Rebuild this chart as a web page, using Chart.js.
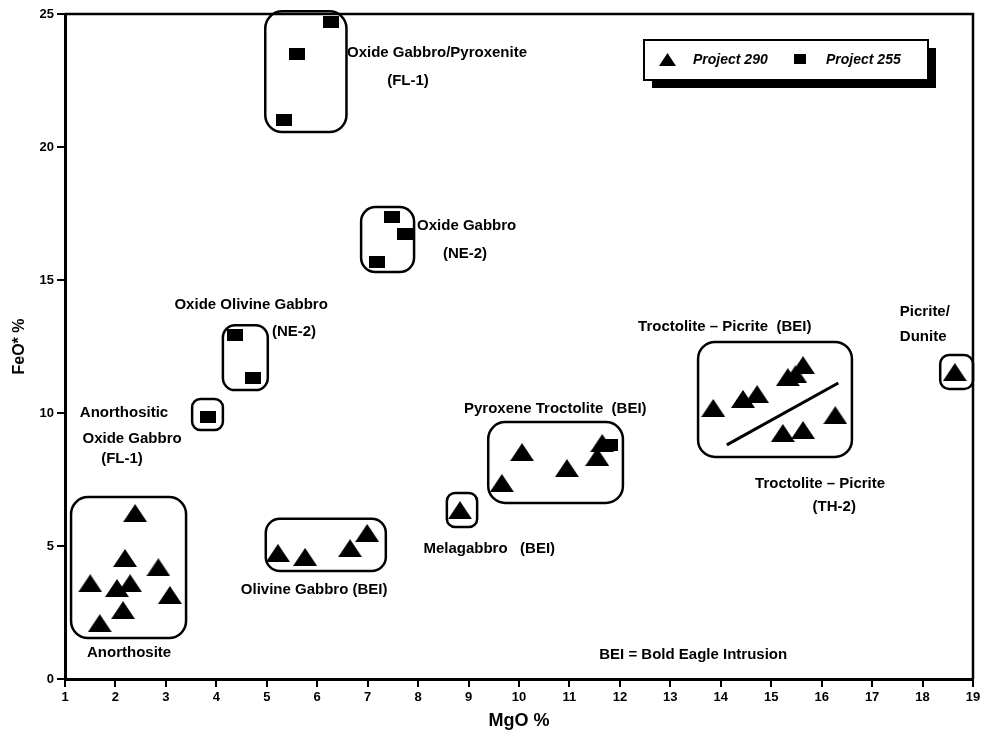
<!DOCTYPE html>
<html>
<head>
<meta charset="utf-8">
<script src="https://cdn.jsdelivr.net/npm/chart.js@4.4.1/dist/chart.umd.min.js"></script>
<style>
  html, body { margin: 0; padding: 0; background: #fff; }
</style>
</head>
<body>
<canvas id="c" width="984" height="736"></canvas>
<script>
// ---- Project 290 samples (triangles) ----
const mgo290 = [2.39, 2.19, 2.85, 1.50, 2.03, 2.29, 3.08, 2.15, 1.69,
                5.22, 5.76, 6.65, 6.99,
                8.83,
                9.66, 10.06, 10.95, 11.55, 11.65,
                13.85, 14.44, 14.72, 15.33, 15.48, 15.63, 16.27, 15.23, 15.63,
                18.64];
const feo290 = [6.24, 4.55, 4.20, 3.60, 3.42, 3.60, 3.16, 2.59, 2.10,
                4.74, 4.59, 4.92, 5.49,
                6.35,
                7.37, 8.53, 7.93, 8.35, 8.87,
                10.19, 10.53, 10.71, 11.35, 11.45, 11.80, 9.92, 9.25, 9.36,
                11.54];

// ---- Project 255 samples (squares) ----
const mgo255 = [5.34, 5.60, 6.27, 7.19, 7.48, 7.74, 4.37, 4.73, 3.83, 11.80];
const feo255 = [21.0, 23.5, 24.7, 15.68, 17.37, 16.73, 12.93, 11.30, 9.85, 8.80];

// Dividing line through the troctolite - picrite field
const divideMgo = [14.12, 16.33];
const divideFeo = [8.80, 11.13];

// Rock-type fields (MgO range, FeO* range)
const fieldNames = ['Oxide Gabbro/Pyroxenite', 'Oxide Gabbro', 'Oxide Olivine Gabbro',
                    'Anorthositic Oxide Gabbro', 'Anorthosite', 'Olivine Gabbro',
                    'Melagabbro', 'Pyroxene Troctolite', 'Troctolite - Picrite', 'Picrite/Dunite'];
const fieldMgo = [[4.97, 6.58], [6.87, 7.92], [4.13, 5.02], [3.52, 4.13], [1.12, 3.40],
                  [4.98, 7.36], [8.57, 9.17], [9.39, 12.06], [13.55, 16.60], [18.35, 19.0]];
const fieldFeo = [[20.56, 25.1], [15.30, 17.74], [10.86, 13.30], [9.36, 10.53], [1.54, 6.84],
                  [4.06, 6.02], [5.71, 6.99], [6.62, 9.66], [8.35, 12.67], [10.90, 12.18]];

// Field annotations: text, MgO, FeO*, alignment
const noteText = ['Oxide Gabbro/Pyroxenite', '(FL-1)', 'Oxide Gabbro', '(NE-2)',
                  'Oxide Olivine Gabbro', '(NE-2)', 'Anorthositic', 'Oxide Gabbro', '(FL-1)',
                  'Anorthosite', 'Olivine Gabbro (BEI)', 'Melagabbro   (BEI)',
                  'Pyroxene Troctolite  (BEI)', 'Troctolite \u2013 Picrite  (BEI)',
                  'Troctolite \u2013 Picrite', '(TH-2)', 'Picrite/', 'Dunite',
                  'BEI = Bold Eagle Intrusion'];
const noteMgo = [6.59, 7.80, 7.98, 8.93, 4.69, 5.54, 2.17, 2.33, 2.13, 2.27, 5.94, 9.41,
                 8.91, 12.36, 14.68, 16.25, 17.55, 17.55, 11.59];
const noteFeo = [23.53, 22.48, 17.03, 15.98, 14.06, 13.05, 10.0, 9.02, 8.27, 0.98, 3.35, 4.89,
                 10.15, 13.23, 7.33, 6.47, 13.80, 12.86, 0.90];
const noteAlign = ['left', 'center', 'left', 'center', 'center', 'center', 'center', 'center',
                   'center', 'center', 'center', 'center', 'left', 'left', 'left', 'center',
                   'left', 'left', 'left'];

const xTicks = [1, 19];
const yTicks = [0, 25];

const FONT = "'Liberation Sans', Arial, sans-serif";

// Marker images
function makeTriangle(w, h) {
  const c = document.createElement('canvas');
  c.width = w; c.height = h;
  const g = c.getContext('2d');
  g.fillStyle = '#000';
  g.beginPath();
  g.moveTo(w / 2, 0); g.lineTo(w, h); g.lineTo(0, h); g.closePath();
  g.fill();
  return c;
}
function makeSquare(w, h) {
  const c = document.createElement('canvas');
  c.width = w; c.height = h;
  const g = c.getContext('2d');
  g.fillStyle = '#000';
  g.fillRect(0, 0, w, h);
  return c;
}
const triMark = makeTriangle(24, 18);
const sqMark = makeSquare(16, 12);
const triLegend = makeTriangle(17, 13);
const sqLegend = makeSquare(12, 10);

function zip(xs, ys) { return xs.map((v, i) => ({ x: v, y: ys[i] })); }

function roundRectPath(ctx, l, t, w, h, r) {
  ctx.beginPath();
  ctx.moveTo(l + r, t);
  ctx.arcTo(l + w, t, l + w, t + h, r);
  ctx.arcTo(l + w, t + h, l, t + h, r);
  ctx.arcTo(l, t + h, l, t, r);
  ctx.arcTo(l, t, l + w, t, r);
  ctx.closePath();
}

const decorations = {
  id: 'decorations',
  beforeDatasetsDraw(chart) {
    const { ctx, scales: { x, y } } = chart;
    ctx.save();
    ctx.strokeStyle = '#000';
    ctx.lineWidth = 2.5;
    fieldNames.forEach((n, i) => {
      const l = x.getPixelForValue(fieldMgo[i][0]);
      const r = x.getPixelForValue(fieldMgo[i][1]);
      const t = y.getPixelForValue(fieldFeo[i][1]);
      const b = y.getPixelForValue(fieldFeo[i][0]);
      const rad = Math.min(17, 0.27 * Math.min(r - l, b - t));
      roundRectPath(ctx, l, t, r - l, b - t, rad);
      ctx.stroke();
    });
    ctx.restore();
  },
  afterDatasetsDraw(chart) {
    const { ctx, chartArea: a, scales: { x, y } } = chart;
    ctx.save();
    // frame: top and right edges
    ctx.strokeStyle = '#000';
    ctx.lineWidth = 2.5;
    ctx.beginPath();
    ctx.moveTo(a.left, a.top); ctx.lineTo(a.right, a.top); ctx.lineTo(a.right, a.bottom);
    ctx.stroke();

    // annotations
    ctx.fillStyle = '#000';
    ctx.font = `bold 15px ${FONT}`;
    ctx.textBaseline = 'middle';
    noteText.forEach((t, i) => {
      ctx.textAlign = noteAlign[i];
      ctx.fillText(t, x.getPixelForValue(noteMgo[i]), y.getPixelForValue(noteFeo[i]));
    });

    // legend box with drop shadow
    const lw = 284, lh = 40;
    const lx = a.right - 45 - lw, ly = a.top + 26;
    ctx.fillStyle = '#000';
    ctx.fillRect(lx + 8, ly + 8, lw, lh);
    ctx.fillStyle = '#fff';
    ctx.fillRect(lx, ly, lw, lh);
    ctx.lineWidth = 2;
    ctx.strokeRect(lx, ly, lw, lh);
    ctx.fillStyle = '#000';
    ctx.font = `italic bold 14px ${FONT}`;
    ctx.textAlign = 'left';
    const ds = chart.data.datasets;
    const cy = ly + lh / 2;
    ctx.drawImage(triLegend, lx + 15, cy - 7);
    ctx.fillText(ds[0].label, lx + 49, cy);
    ctx.drawImage(sqLegend, lx + 150, cy - 6);
    ctx.fillText(ds[1].label, lx + 182, cy);
    ctx.restore();
  }
};

new Chart(document.getElementById('c'), {
  type: 'scatter',
  data: {
    datasets: [
      { label: 'Project 290', data: zip(mgo290, feo290), pointStyle: triMark,
        backgroundColor: '#000', borderColor: '#000' },
      { label: 'Project 255', data: zip(mgo255, feo255), pointStyle: sqMark,
        backgroundColor: '#000', borderColor: '#000' },
      { type: 'line', label: 'divide', data: zip(divideMgo, divideFeo), showLine: true,
        borderColor: '#000', borderWidth: 3, pointRadius: 0, fill: false }
    ]
  },
  options: {
    responsive: false,
    animation: false,
    devicePixelRatio: 1,
    layout: { padding: { top: 14, right: 11, left: 0, bottom: 0 } },
    plugins: { legend: { display: false }, tooltip: { enabled: false } },
    scales: {
      x: {
        type: 'linear', min: xTicks[0], max: xTicks[1],
        ticks: { stepSize: 1, color: '#000', font: { family: FONT, size: 13, weight: 'bold' }, padding: 3 },
        grid: { drawOnChartArea: false, drawTicks: true, tickLength: 8, color: '#000', lineWidth: 2 },
        border: { display: true, color: '#000', width: 3 },
        title: { display: true, text: 'MgO %', color: '#000', font: { family: FONT, size: 18, weight: 'bold' }, padding: { top: 1 } },
        afterFit(s) { s.height = 57; }
      },
      y: {
        type: 'linear', min: yTicks[0], max: yTicks[1],
        ticks: { stepSize: 5, color: '#000', font: { family: FONT, size: 13, weight: 'bold' }, padding: 3 },
        grid: { drawOnChartArea: false, drawTicks: true, tickLength: 8, color: '#000', lineWidth: 2 },
        border: { display: true, color: '#000', width: 3 },
        title: { display: true, text: 'FeO* %', color: '#000', font: { family: FONT, size: 16, weight: 'bold' }, padding: { top: 10, bottom: 0 } },
        afterFit(s) { s.width = 65; }
      }
    }
  },
  plugins: [decorations]
});
</script>
</body>
</html>
